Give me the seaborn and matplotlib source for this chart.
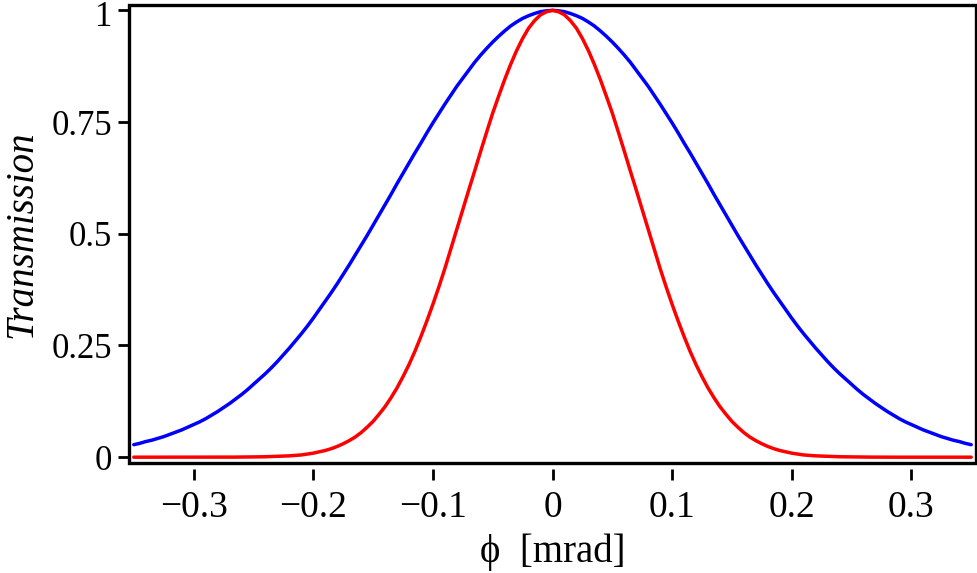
import numpy as np
import pandas as pd
import matplotlib
matplotlib.use("Agg")
import matplotlib.pyplot as plt
import matplotlib.transforms as mtransforms
import seaborn as sns
from matplotlib.patches import Rectangle

# |phi| sample positions (mrad); both curves are symmetric about phi = 0
phi_half = [round(0.005 * i, 3) for i in range(71)]
blue_half = [1.000, 0.999, 0.997, 0.993, 0.988, 0.982, 0.974, 0.965, 0.954, 0.942,
             0.929, 0.915, 0.900, 0.884, 0.866, 0.848, 0.830, 0.810, 0.790, 0.769,
             0.748, 0.726, 0.703, 0.681, 0.658, 0.635, 0.612, 0.588, 0.565, 0.542,
             0.519, 0.496, 0.474, 0.452, 0.430, 0.409, 0.388, 0.368, 0.349, 0.330,
             0.311, 0.293, 0.276, 0.260, 0.244, 0.229, 0.214, 0.200, 0.187, 0.175,
             0.163, 0.151, 0.140, 0.130, 0.120, 0.111, 0.102, 0.094, 0.086, 0.079,
             0.073, 0.067, 0.061, 0.056, 0.051, 0.046, 0.042, 0.038, 0.035, 0.031,
             0.028]
red_half = [1.000, 0.997, 0.990, 0.977, 0.960, 0.937, 0.910, 0.879, 0.845, 0.808,
            0.770, 0.728, 0.685, 0.641, 0.598, 0.554, 0.510, 0.466, 0.422, 0.381,
            0.342, 0.305, 0.270, 0.237, 0.207, 0.180, 0.155, 0.133, 0.113, 0.096,
            0.080, 0.067, 0.055, 0.045, 0.037, 0.030, 0.024, 0.019, 0.015, 0.012,
            0.009, 0.007, 0.005, 0.004, 0.003, 0.0025, 0.002, 0.0015, 0.001, 0.0008,
            0.0005, 0.0004, 0.0003, 0.0002, 0.0001, 0.0, 0.0, 0.0, 0.0, 0.0,
            0.0, 0.0, 0.0, 0.0, 0.0, 0.0, 0.0, 0.0, 0.0, 0.0,
            0.0]

xticks = [-0.3, -0.2, -0.1, 0.0, 0.1, 0.2, 0.3]
xticklabels = ["\u22120.3", "\u22120.2", "\u22120.1", "0", "0.1", "0.2", "0.3"]
yticks = [0.0, 0.25, 0.5, 0.75, 1.0]
yticklabels = ["0", "0.25", "0.5", "0.75", "1"]

ph = np.array(phi_half)
phi = np.concatenate([-ph[:0:-1], ph])
blue = np.concatenate([np.array(blue_half)[:0:-1], blue_half])
red = np.concatenate([np.array(red_half)[:0:-1], red_half])
df = pd.DataFrame({"phi": phi, "blue": blue, "red": red})

sns.set_theme(style="white")
plt.rcParams["font.family"] = ["Liberation Serif", "DejaVu Serif"]

W, H = 977, 573
fig = plt.figure(figsize=(W / 100, H / 100), dpi=100)
left, right, top, bottom = 129, 976, 5, 463
ax = fig.add_axes([left / W, 1 - bottom / H, (right - left) / W, (bottom - top) / H])

sns.lineplot(data=df, x="phi", y="blue", color="#0000ff", lw=2.5, ax=ax)
sns.lineplot(data=df, x="phi", y="red", color="#ff0000", lw=2.5, ax=ax)

ax.set_xlim(-0.354, 0.354)
ax.set_ylim(-0.013, 1.012)

for s in ax.spines.values():
    s.set_visible(False)
ax.spines["bottom"].set_position(("outward", 4))
ax.add_patch(Rectangle((0, 0), 1, 1, transform=ax.transAxes, fill=False,
                       lw=2.4, ec="black", clip_on=False, zorder=5))

ax.set_xticks(xticks, labels=xticklabels)
ax.set_yticks(yticks, labels=yticklabels)
ax.tick_params(axis="both", which="major", direction="out", length=8, width=2,
               color="black", labelcolor="black", bottom=True, left=True)
ax.tick_params(axis="x", labelsize=27, pad=8)
ax.tick_params(axis="y", labelsize=25, pad=4)

shift = mtransforms.ScaledTranslation(0, -3 / 100, fig.dpi_scale_trans)
for lab in ax.get_yticklabels():
    if lab.get_text() == "1":
        lab.set_transform(lab.get_transform() + shift)

ax.set_xlabel("\u03d5  [mrad]", fontsize=28, color="black", labelpad=6)
ax.set_ylabel("Transmission", fontsize=28, style="italic", color="black", labelpad=8)

fig.savefig("out.png", dpi=100)
